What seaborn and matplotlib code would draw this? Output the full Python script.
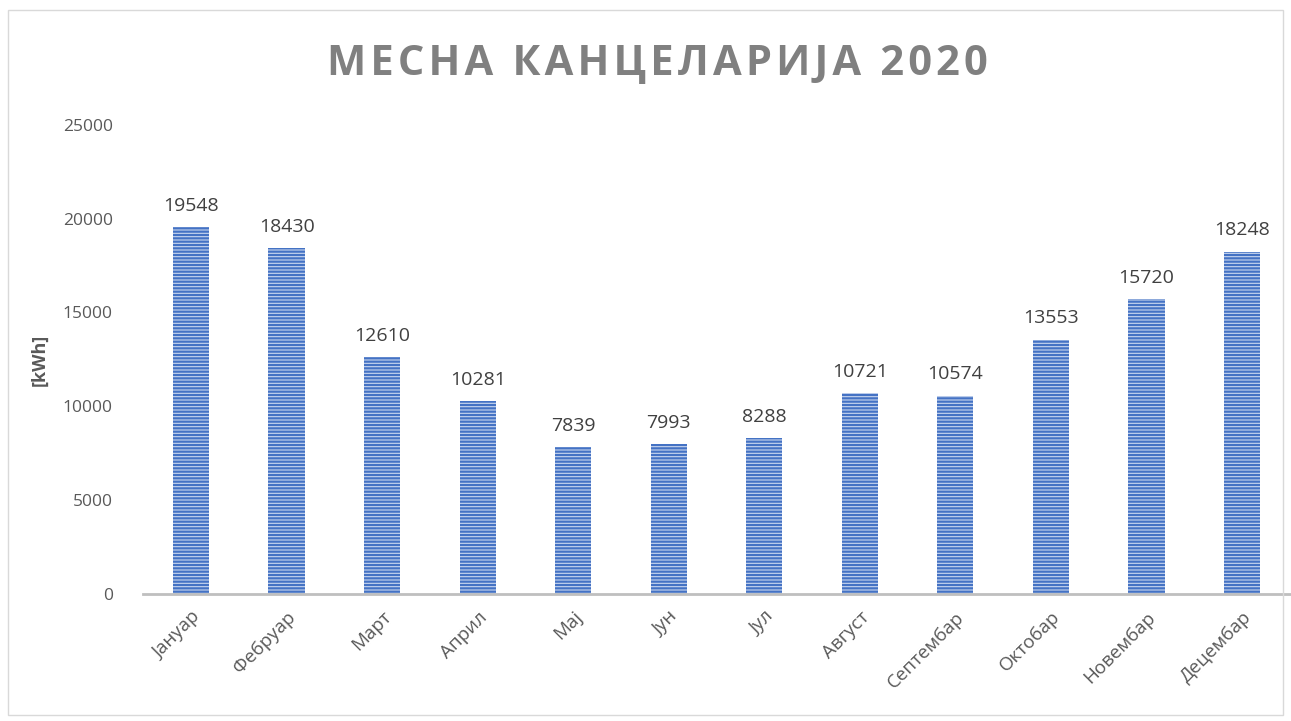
import matplotlib.pyplot as plt
import seaborn as sns
import pandas as pd
from matplotlib.patches import Rectangle

title = 'МЕСНА КАНЦЕЛАРИЈА 2020'
months = ['Јануар', 'Фебруар', 'Март', 'Април', 'Мај', 'Јун', 'Јул',
          'Август', 'Септембар', 'Октобар', 'Новембар', 'Децембар']
kwh = [19548, 18430, 12610, 10281, 7839, 7993, 8288,
       10721, 10574, 13553, 15720, 18248]

df = pd.DataFrame({'month': months, 'kwh': kwh})

sns.set_style('white')
plt.rcParams['font.family'] = ['Open Sans', 'DejaVu Sans']
plt.rcParams['hatch.linewidth'] = 1.6
plt.rcParams['hatch.color'] = '#4472c4'

fig = plt.figure(figsize=(12.91, 7.21), dpi=100)
ax = fig.add_axes([0.111, 0.176, 0.888, 0.651])

sns.barplot(data=df, x='month', y='kwh', ax=ax, width=0.38,
            color='#c9d6ef', edgecolor='#4472c4', linewidth=0, saturation=1)
for bar in ax.patches:
    bar.set_hatch('-----')

# value labels above bars
for i, v in enumerate(kwh):
    ax.text(i, v + 650, str(v), ha='center', va='bottom',
            fontsize=14, color='#404040')

ax.set_ylim(0, 25000)
ax.set_xlim(-0.5, 11.5)
ax.set_yticks(range(0, 25001, 5000))
ax.tick_params(axis='y', labelsize=12.5, labelcolor='#595959', length=0, pad=22)
ax.tick_params(axis='x', labelsize=13.5, labelcolor='#595959', length=0, pad=10)
plt.setp(ax.get_xticklabels(), rotation=45, ha='right', rotation_mode='anchor')
ax.set_xlabel('')
ax.set_ylabel('[kWh]', fontsize=13, fontweight='bold', color='#595959', labelpad=10)

for s in ['top', 'right', 'left']:
    ax.spines[s].set_visible(False)
ax.spines['bottom'].set_color('#bfbfbf')
ax.spines['bottom'].set_linewidth(2)

# slightly spaced-out title letters
spaced = ' \u2009'.join('\u200a'.join(w) for w in title.split(' '))
fig.text(0.509, 0.91, spaced, ha='center', va='center',
         fontsize=30, fontweight='bold', color='#808080')

fig.patches.append(Rectangle((0.006, 0.008), 0.988, 0.978, transform=fig.transFigure,
                             fill=False, edgecolor='#d9d9d9', linewidth=1))

fig.savefig('out.png', dpi=100)
